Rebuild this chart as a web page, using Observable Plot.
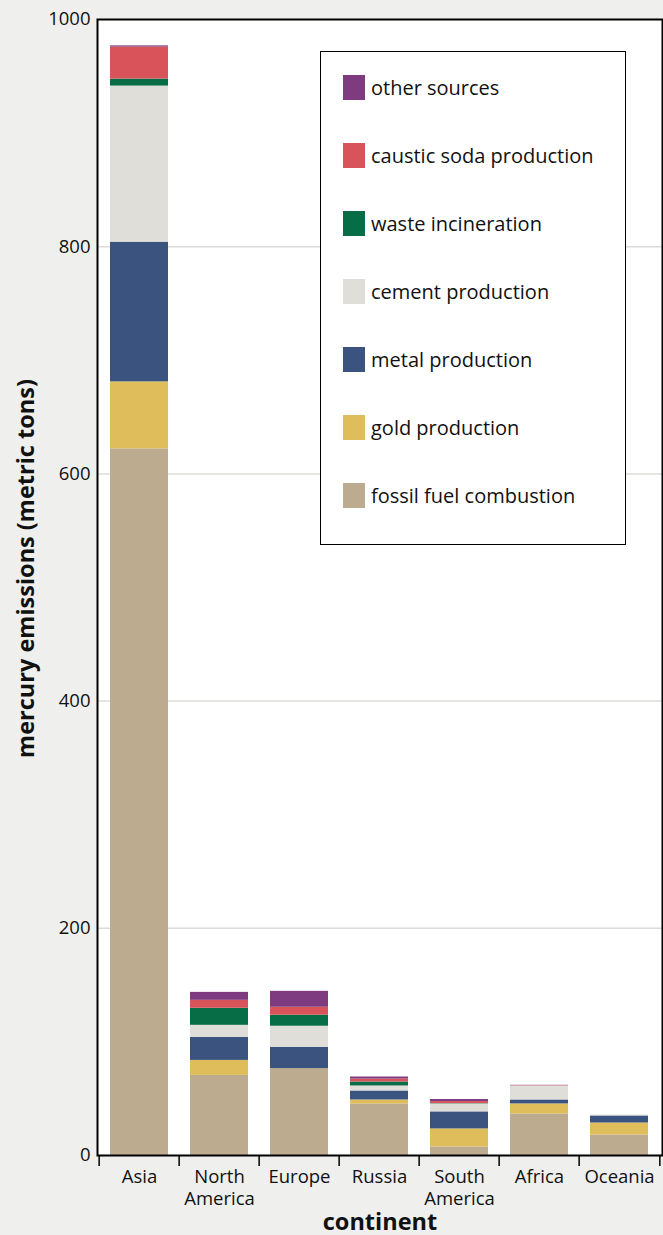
<!DOCTYPE html>
<html>
<head>
<meta charset="utf-8">
<script src="https://cdn.jsdelivr.net/npm/d3@7"></script>
<script src="https://cdn.jsdelivr.net/npm/@observablehq/plot@0.6"></script>
<style>
  html, body { margin: 0; padding: 0; background: #efefed; }
  #wrap { position: relative; width: 663px; height: 1235px; font-family: "Open Sans", sans-serif; }
  #wrap svg { display: block; }
  g[aria-label="x-axis label"] text { font-weight: bold !important; font-size: 23.5px !important; }
  #legend { position: absolute; left: 320px; top: 51px; width: 304px; height: 491px; border: 1.5px solid #000; background: #fff; padding-top: 1px; box-sizing: content-box; }
  #legend .item { display: flex; align-items: center; height: 68px; }
  #legend .sw { width: 22px; height: 25px; margin-left: 22px; margin-right: 6px; }
  #legend .lab { font-size: 20px; color: #111; }
</style>
</head>
<body>
<div id="wrap"></div>
<script>
const continents = ["Asia", "North America", "Europe", "Russia", "South America", "Africa", "Oceania"];
const sources = ["fossil fuel combustion", "gold production", "metal production", "cement production", "waste incineration", "caustic soda production", "other sources"];
const colors = ["#bcab8e", "#e0bd5b", "#3b547f", "#dfded9", "#076d46", "#d9545a", "#7e3b7f"];
const fossilFuel   = [622, 70.5, 75.8, 45.4, 7.5, 36.6, 18];
const gold         = [59, 13.2, 0.5, 3.5, 15.9, 8.8, 10.6];
const metal        = [123, 20.3, 19, 7.9, 15, 3.5, 6.2];
const cement       = [137.4, 10.6, 18.5, 4.4, 7, 12.3, 0.8];
const waste        = [6.2, 15, 9.7, 3.5, 0.3, 0, 0];
const causticSoda  = [28.2, 7, 7, 2.6, 1.8, 0.3, 0];
const otherSources = [1, 7, 14, 1.8, 1.8, 0.3, 0];
const yTicks = [0, 200, 400, 600, 800, 1000];
const yTitle = "mercury emissions (metric tons)";
const xTitle = "continent";

const series = [fossilFuel, gold, metal, cement, waste, causticSoda, otherSources];
const data = [];
sources.forEach((s, i) => continents.forEach((c, j) => data.push({continent: c, source: s, value: series[i][j]})));

const W = 663, H = 1235, mL = 97, mR = 1, mT = 19, mB = 80;
const halfStep = (W - mL - mR) / continents.length / 2;

const chart = Plot.plot({
  width: W, height: H,
  marginLeft: mL, marginRight: mR, marginTop: mT, marginBottom: mB,
  style: {fontFamily: "'Open Sans', sans-serif", fontSize: "18.5px", background: "#efefed", color: "#111"},
  x: {domain: continents, paddingInner: 0.27, paddingOuter: 0.135},
  y: {domain: [0, 1000]},
  color: {domain: sources, range: colors},
  marks: [
    Plot.frame({fill: "white", stroke: "none"}),
    Plot.gridY(yTicks, {stroke: "#dcdcd8", strokeOpacity: 1, strokeWidth: 1.5}),
    Plot.barY(data, {x: "continent", y: "value", fill: "source", inset: 0}),
    Plot.frame({stroke: "#000", strokeWidth: 2}),
    Plot.axisY({ticks: yTicks, tickSize: 0, tickPadding: 7, tickFormat: d => String(d), label: null}),
    Plot.text([yTitle], {frameAnchor: "left", textAnchor: "middle", rotate: -90, dx: -80, dy: -19, lineAnchor: "top", fontWeight: "bold", fontSize: 23.5, fill: "#111"}),
    Plot.axisX({tickSize: 11, tickFormat: () => "", dx: -halfStep, label: null, stroke: "#000", strokeWidth: 1.5}),
    Plot.axisX(["Oceania"], {tickSize: 11, tickFormat: () => "", dx: halfStep, label: null, stroke: "#000", strokeWidth: 1.5}),
    Plot.axisX({tickSize: 0, tickPadding: 12, tickFormat: d => d.replace(" ", "\n"), lineHeight: 1.18, label: xTitle, labelAnchor: "center", labelArrow: "none", labelOffset: 74})
  ]
});
const wrap = document.getElementById("wrap");
wrap.appendChild(chart);

const legend = document.createElement("div");
legend.id = "legend";
sources.slice().reverse().forEach(s => {
  const item = document.createElement("div");
  item.className = "item";
  const sw = document.createElement("div");
  sw.className = "sw";
  sw.style.background = colors[sources.indexOf(s)];
  const lab = document.createElement("span");
  lab.className = "lab";
  lab.textContent = s;
  item.appendChild(sw); item.appendChild(lab);
  legend.appendChild(item);
});
wrap.appendChild(legend);
</script>
</body>
</html>
